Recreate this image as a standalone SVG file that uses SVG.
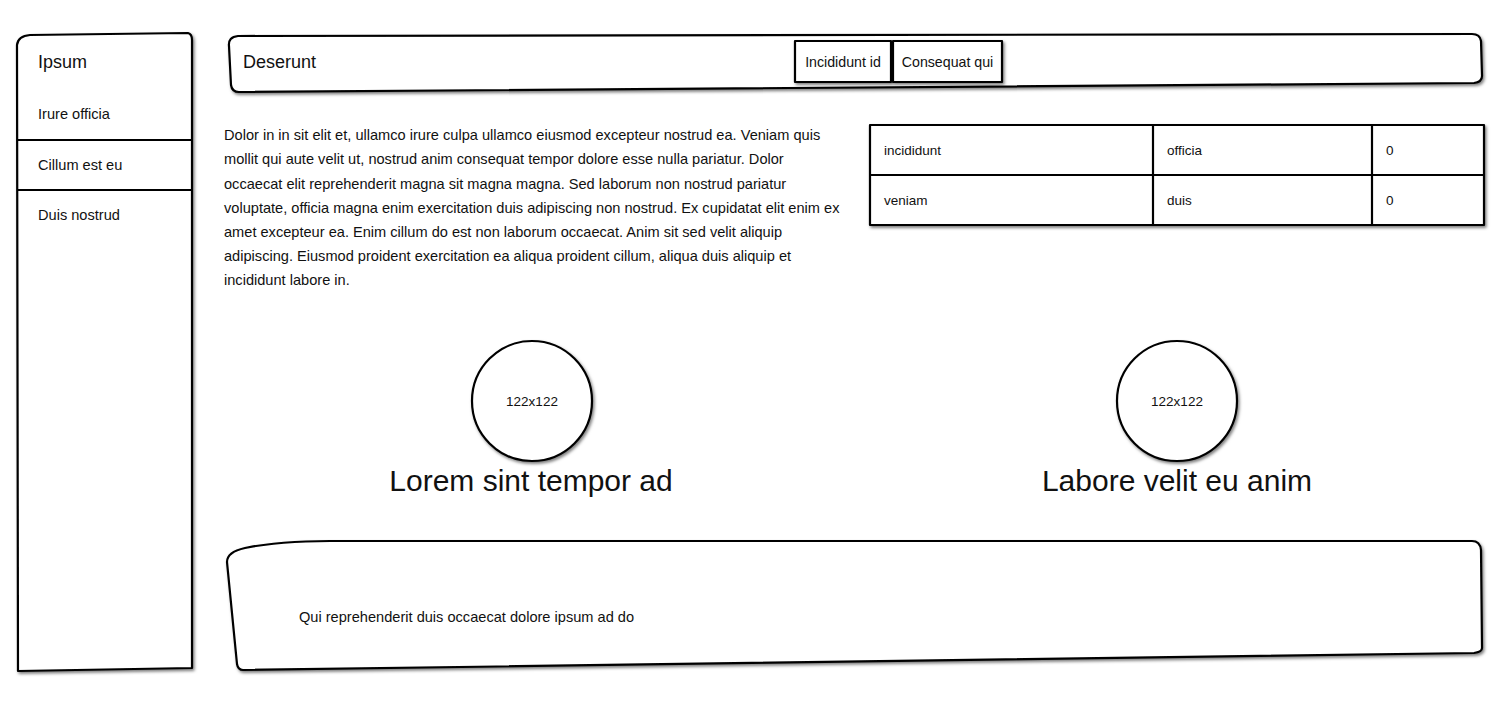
<svg xmlns="http://www.w3.org/2000/svg" width="1500" height="720" viewBox="0 0 1500 720">
<style>
.shape{fill:#fff;stroke:#000;stroke-width:2.2;stroke-linejoin:round}
.line{stroke:#000;stroke-width:2.2;fill:none}
text{font-family:"Liberation Sans","DejaVu Sans",sans-serif;fill:#111}
.s14{font-size:13.5px}
.p{font-size:14.6px}
.s18{font-size:18px}
.big{font-size:30px}
.mid{text-anchor:middle}
</style>
<defs>
<filter id="sh" x="-10%" y="-10%" width="120%" height="130%">
<feDropShadow dx="1.5" dy="2" stdDeviation="1.8" flood-color="#000" flood-opacity="0.5"/>
</filter>
</defs>
<rect width="1500" height="720" fill="#fff"/>

<g id="sidebar">
<path class="shape" filter="url(#sh)" d="M17 45 Q18 36 30 35 L188 33 Q192 34 192 40 L192 668 L18 671 Z"/>
<line class="line" x1="17" y1="140" x2="192" y2="140"/>
<line class="line" x1="17" y1="190" x2="192" y2="190"/>
<text class="s18" x="38" y="68">Ipsum</text>
<text class="p" x="38" y="119">Irure officia</text>
<text class="p" x="38" y="170">Cillum est eu</text>
<text class="p" x="38" y="220">Duis nostrud</text>
</g>

<g id="header">
<path class="shape" filter="url(#sh)" d="M238 36 Q228 37 229 46 L231 85 Q232 92 239 92 L1474 83 Q1482 82 1482 76 L1481 41 Q1480 34 1472 34 Z"/>
<text class="s18" x="243" y="68">Deserunt</text>
</g>

<g id="btn1">
<rect class="shape" filter="url(#sh)" x="795" y="41" width="96" height="41"/>
<text class="mid" font-size="14.2" x="843" y="67">Incididunt id</text>
</g>
<g id="btn2">
<rect class="shape" filter="url(#sh)" x="893" y="41" width="109" height="41"/>
<text class="mid" font-size="14.2" x="947.5" y="67">Consequat qui</text>
</g>

<g id="paragraph" class="p">
<text x="224" y="140">Dolor in in sit elit et, ullamco irure culpa ullamco eiusmod excepteur nostrud ea. Veniam quis</text>
<text x="224" y="164">mollit qui aute velit ut, nostrud anim consequat tempor dolore esse nulla pariatur. Dolor</text>
<text x="224" y="189">occaecat elit reprehenderit magna sit magna magna. Sed laborum non nostrud pariatur</text>
<text x="224" y="213">voluptate, officia magna enim exercitation duis adipiscing non nostrud. Ex cupidatat elit enim ex</text>
<text x="224" y="237">amet excepteur ea. Enim cillum do est non laborum occaecat. Anim sit sed velit aliquip</text>
<text x="224" y="261">adipiscing. Eiusmod proident exercitation ea aliqua proident cillum, aliqua duis aliquip et</text>
<text x="224" y="285">incididunt labore in.</text>
</g>

<g id="table">
<rect class="shape" filter="url(#sh)" x="870" y="125" width="614" height="100"/>
<line class="line" x1="870" y1="175" x2="1484" y2="175"/>
<line class="line" x1="1153" y1="125" x2="1153" y2="225"/>
<line class="line" x1="1372" y1="125" x2="1372" y2="225"/>
<text class="s14" x="884" y="155">incididunt</text>
<text class="s14" x="1167" y="155">officia</text>
<text class="s14" x="1386" y="155">0</text>
<text class="s14" x="884" y="205">veniam</text>
<text class="s14" x="1167" y="205">duis</text>
<text class="s14" x="1386" y="205">0</text>
</g>

<g id="avatar1">
<circle class="shape" filter="url(#sh)" cx="532" cy="401" r="60"/>
<text class="s14 mid" x="532" y="406">122x122</text>
<text class="big mid" x="531" y="491">Lorem sint tempor ad</text>
</g>
<g id="avatar2">
<circle class="shape" filter="url(#sh)" cx="1177" cy="401" r="60"/>
<text class="s14 mid" x="1177" y="406">122x122</text>
<text class="big mid" x="1177" y="491">Labore velit eu anim</text>
</g>

<g id="footer">
<path class="shape" filter="url(#sh)" d="M227 562 Q227 552 245 548 Q280 541 330 541 L1472 541 Q1480 541 1481 550 L1482 648 Q1482 652 1474 653 L243 670 Q238 670 237 664 Z"/>
<text class="p" x="299" y="622">Qui reprehenderit duis occaecat dolore ipsum ad do</text>
</g>
</svg>
